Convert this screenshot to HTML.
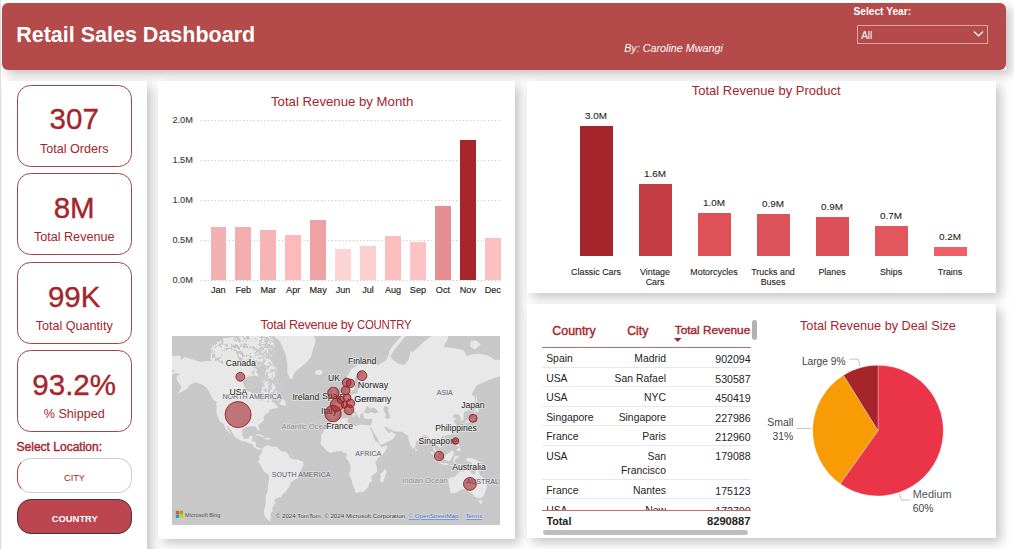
<!DOCTYPE html>
<html><head><meta charset="utf-8"><style>
html,body{margin:0;padding:0;width:1014px;height:549px;overflow:hidden;background:#fff;position:relative}
body{font-family:"Liberation Sans",sans-serif}
.t{position:absolute;white-space:nowrap}
.panel{position:absolute;background:#fff;box-shadow:5px 5px 10px rgba(0,0,0,0.22)}
</style></head><body>
<div style="position:absolute;left:0;top:0;width:1.3px;height:549px;background:#E2E2E2"></div>
<div class="panel" style="left:2px;top:3px;width:1004px;height:67px;background:#fff"></div>
<div style="position:absolute;left:2px;top:3px;width:1004px;height:67px;background:#B44A4A;border-radius:6px"></div>
<div class="t" style="left:16.2px;top:25.00px;font-size:21.5px;line-height:21.5px;color:#fff;font-weight:700;font-style:normal;">Retail Sales Dashboard</div>
<div class="t" style="left:624.2px;top:43.30px;font-size:10.75px;line-height:10.75px;color:#fff;font-weight:400;font-style:italic;">By: Caroline Mwangi</div>
<div class="t" style="left:853.5px;top:6.57px;font-size:10.2px;line-height:10.2px;color:#fff;font-weight:700;font-style:normal;">Select Year:</div>
<div style="position:absolute;left:857px;top:24.5px;width:129px;height:17.5px;border:1px solid #D9A3A3;box-sizing:content-box"></div>
<div class="t" style="left:861.2px;top:30.54px;font-size:10px;line-height:10px;color:#fff;font-weight:400;font-style:normal;">All</div>
<svg style="position:absolute;left:972px;top:29px" width="14" height="10"><path d="M2,2.5 L6.5,7 L11,2.5" stroke="#fff" stroke-width="1.2" fill="none"/></svg>
<div class="panel" style="left:2px;top:81px;width:145px;height:520px"></div>
<div style="position:absolute;left:16.6px;top:84.5px;width:113px;height:80px;border:1px solid #A0444A;border-radius:13.5px"></div>
<div class="t" style="left:74.2px;transform:translateX(-50%);top:104.33px;font-size:29.5px;line-height:29.5px;color:#A4262C;font-weight:400;font-style:normal;-webkit-text-stroke:0.35px #A4262C">307</div>
<div class="t" style="left:74.2px;transform:translateX(-50%);top:142.93px;font-size:12.6px;line-height:12.6px;color:#A4262C;font-weight:400;font-style:normal;">Total Orders</div>
<div style="position:absolute;left:16.6px;top:173px;width:113px;height:80px;border:1px solid #A0444A;border-radius:13.5px"></div>
<div class="t" style="left:74.2px;transform:translateX(-50%);top:192.83px;font-size:29.5px;line-height:29.5px;color:#A4262C;font-weight:400;font-style:normal;-webkit-text-stroke:0.35px #A4262C">8M</div>
<div class="t" style="left:74.2px;transform:translateX(-50%);top:230.93px;font-size:12.6px;line-height:12.6px;color:#A4262C;font-weight:400;font-style:normal;">Total Revenue</div>
<div style="position:absolute;left:16.6px;top:262px;width:113px;height:80px;border:1px solid #A0444A;border-radius:13.5px"></div>
<div class="t" style="left:74.2px;transform:translateX(-50%);top:281.83px;font-size:29.5px;line-height:29.5px;color:#A4262C;font-weight:400;font-style:normal;-webkit-text-stroke:0.35px #A4262C">99K</div>
<div class="t" style="left:74.2px;transform:translateX(-50%);top:319.93px;font-size:12.6px;line-height:12.6px;color:#A4262C;font-weight:400;font-style:normal;">Total Quantity</div>
<div style="position:absolute;left:16.6px;top:350px;width:113px;height:80px;border:1px solid #A0444A;border-radius:13.5px"></div>
<div class="t" style="left:74.2px;transform:translateX(-50%);top:369.83px;font-size:29.5px;line-height:29.5px;color:#A4262C;font-weight:400;font-style:normal;-webkit-text-stroke:0.35px #A4262C">93.2%</div>
<div class="t" style="left:74.2px;transform:translateX(-50%);top:407.93px;font-size:12.6px;line-height:12.6px;color:#A4262C;font-weight:400;font-style:normal;">% Shipped</div>
<div class="t" style="left:16.6px;top:441.14px;font-size:12px;line-height:12px;color:#A4262C;font-weight:400;font-style:normal;-webkit-text-stroke:0.4px #A4262C">Select Location:</div>
<div style="position:absolute;left:17px;top:457.6px;width:112.8px;height:33px;border:1px solid #CFCFCF;border-left-color:#C04040;border-radius:14px;background:#fff"></div>
<div class="t" style="left:74.5px;transform:translateX(-50%);top:474.21px;font-size:9.2px;line-height:9.2px;color:#A4262C;font-weight:400;font-style:normal;">CITY</div>
<div style="position:absolute;left:17px;top:499px;width:112.8px;height:33px;border:1px solid #4A3030;border-radius:14px;background:#BC464F"></div>
<div class="t" style="left:74.8px;transform:translateX(-50%);top:513.84px;font-size:9.4px;line-height:9.4px;color:#fff;font-weight:700;font-style:normal;">COUNTRY</div>
<div class="panel" style="left:158px;top:81px;width:357px;height:458px"></div>
<div class="t" style="left:271px;top:94.83px;font-size:13.2px;line-height:13.2px;color:#A6242B;font-weight:400;font-style:normal;">Total Revenue by Month</div>
<svg style="position:absolute;left:200px;top:120px" width="302" height="2"><line x1="0.5" y1="0.5" x2="301" y2="0.5" stroke="#C4C4C4" stroke-width="1" stroke-dasharray="1.1 2.45"/></svg>
<div class="t" style="right:821.2px;top:116.01px;font-size:9.2px;line-height:9.2px;color:#3C3B3A;font-weight:400;font-style:normal;-webkit-text-stroke:0.1px #3C3B3A">2.0M</div>
<svg style="position:absolute;left:200px;top:160px" width="302" height="2"><line x1="0.5" y1="0.5" x2="301" y2="0.5" stroke="#C4C4C4" stroke-width="1" stroke-dasharray="1.1 2.45"/></svg>
<div class="t" style="right:821.2px;top:156.01px;font-size:9.2px;line-height:9.2px;color:#3C3B3A;font-weight:400;font-style:normal;-webkit-text-stroke:0.1px #3C3B3A">1.5M</div>
<svg style="position:absolute;left:200px;top:200px" width="302" height="2"><line x1="0.5" y1="0.5" x2="301" y2="0.5" stroke="#C4C4C4" stroke-width="1" stroke-dasharray="1.1 2.45"/></svg>
<div class="t" style="right:821.2px;top:196.01px;font-size:9.2px;line-height:9.2px;color:#3C3B3A;font-weight:400;font-style:normal;-webkit-text-stroke:0.1px #3C3B3A">1.0M</div>
<svg style="position:absolute;left:200px;top:240px" width="302" height="2"><line x1="0.5" y1="0.5" x2="301" y2="0.5" stroke="#C4C4C4" stroke-width="1" stroke-dasharray="1.1 2.45"/></svg>
<div class="t" style="right:821.2px;top:236.01px;font-size:9.2px;line-height:9.2px;color:#3C3B3A;font-weight:400;font-style:normal;-webkit-text-stroke:0.1px #3C3B3A">0.5M</div>
<svg style="position:absolute;left:200px;top:280px" width="302" height="2"><line x1="0.5" y1="0.5" x2="301" y2="0.5" stroke="#C4C4C4" stroke-width="1" stroke-dasharray="1.1 2.45"/></svg>
<div class="t" style="right:821.2px;top:276.01px;font-size:9.2px;line-height:9.2px;color:#3C3B3A;font-weight:400;font-style:normal;-webkit-text-stroke:0.1px #3C3B3A">0.0M</div>
<div style="position:absolute;left:210.50px;top:227px;width:15.7px;height:53.20px;background:#F4B1B2"></div>
<div class="t" style="left:218.35px;transform:translateX(-50%);top:285.80px;font-size:9.1px;line-height:9.1px;color:#252423;font-weight:400;font-style:normal;-webkit-text-stroke:0.15px #252423">Jan</div>
<div style="position:absolute;left:235.45px;top:226.6px;width:15.7px;height:53.60px;background:#F3AEB0"></div>
<div class="t" style="left:243.29999999999998px;transform:translateX(-50%);top:285.80px;font-size:9.1px;line-height:9.1px;color:#252423;font-weight:400;font-style:normal;-webkit-text-stroke:0.15px #252423">Feb</div>
<div style="position:absolute;left:260.40px;top:230px;width:15.7px;height:50.20px;background:#F6B4B5"></div>
<div class="t" style="left:268.25px;transform:translateX(-50%);top:285.80px;font-size:9.1px;line-height:9.1px;color:#252423;font-weight:400;font-style:normal;-webkit-text-stroke:0.15px #252423">Mar</div>
<div style="position:absolute;left:285.35px;top:235px;width:15.7px;height:45.20px;background:#FDBABB"></div>
<div class="t" style="left:293.20000000000005px;transform:translateX(-50%);top:285.80px;font-size:9.1px;line-height:9.1px;color:#252423;font-weight:400;font-style:normal;-webkit-text-stroke:0.15px #252423">Apr</div>
<div style="position:absolute;left:310.30px;top:219.5px;width:15.7px;height:60.70px;background:#EDA3A4"></div>
<div class="t" style="left:318.15000000000003px;transform:translateX(-50%);top:285.80px;font-size:9.1px;line-height:9.1px;color:#252423;font-weight:400;font-style:normal;-webkit-text-stroke:0.15px #252423">May</div>
<div style="position:absolute;left:335.25px;top:249px;width:15.7px;height:31.20px;background:#FED4D5"></div>
<div class="t" style="left:343.1px;transform:translateX(-50%);top:285.80px;font-size:9.1px;line-height:9.1px;color:#252423;font-weight:400;font-style:normal;-webkit-text-stroke:0.15px #252423">Jun</div>
<div style="position:absolute;left:360.20px;top:246px;width:15.7px;height:34.20px;background:#FDCFD0"></div>
<div class="t" style="left:368.05px;transform:translateX(-50%);top:285.80px;font-size:9.1px;line-height:9.1px;color:#252423;font-weight:400;font-style:normal;-webkit-text-stroke:0.15px #252423">Jul</div>
<div style="position:absolute;left:385.15px;top:235.8px;width:15.7px;height:44.40px;background:#FBBDBE"></div>
<div class="t" style="left:393.0px;transform:translateX(-50%);top:285.80px;font-size:9.1px;line-height:9.1px;color:#252423;font-weight:400;font-style:normal;-webkit-text-stroke:0.15px #252423">Aug</div>
<div style="position:absolute;left:410.10px;top:241.8px;width:15.7px;height:38.40px;background:#FDC4C5"></div>
<div class="t" style="left:417.95000000000005px;transform:translateX(-50%);top:285.80px;font-size:9.1px;line-height:9.1px;color:#252423;font-weight:400;font-style:normal;-webkit-text-stroke:0.15px #252423">Sep</div>
<div style="position:absolute;left:435.05px;top:206.4px;width:15.7px;height:73.80px;background:#E58F92"></div>
<div class="t" style="left:442.9px;transform:translateX(-50%);top:285.80px;font-size:9.1px;line-height:9.1px;color:#252423;font-weight:400;font-style:normal;-webkit-text-stroke:0.15px #252423">Oct</div>
<div style="position:absolute;left:460.00px;top:140.2px;width:15.7px;height:140.00px;background:#A6262B"></div>
<div class="t" style="left:467.85px;transform:translateX(-50%);top:285.80px;font-size:9.1px;line-height:9.1px;color:#252423;font-weight:400;font-style:normal;-webkit-text-stroke:0.15px #252423">Nov</div>
<div style="position:absolute;left:484.95px;top:238px;width:15.7px;height:42.20px;background:#FDC0C1"></div>
<div class="t" style="left:492.8px;transform:translateX(-50%);top:285.80px;font-size:9.1px;line-height:9.1px;color:#252423;font-weight:400;font-style:normal;-webkit-text-stroke:0.15px #252423">Dec</div>
<div class="t" style="left:260.6px;top:318.63px;font-size:12.6px;line-height:12.6px;color:#A6242B;font-weight:400;font-style:normal;letter-spacing:-0.28px">Total Revenue by <span style="display:inline-block;transform:scaleX(0.905);transform-origin:0 0">COUNTRY</span></div>
<svg style="position:absolute;left:172px;top:336px;font-family:'Liberation Sans',sans-serif" width="328" height="189" viewBox="0 0 328 189">
<rect width="328" height="189" fill="#C8C8C8"/>
<path d="M-5.2,39.6 L-2.2,35.1 L1.7,36.0 L3.6,29.3 L12.6,20.9 L28.0,25.8 L40.7,24.7 L53.3,28.8 L60.2,30.1 L69.9,30.1 L73.3,18.7 L77.7,28.8 L85.5,33.9 L81.6,39.6 L73.8,45.9 L74.8,50.2 L78.7,53.8 L85.5,56.9 L87.5,62.6 L88.9,57.8 L90.4,50.8 L89.4,43.3 L93.3,43.5 L97.2,45.9 L102.1,47.5 L105.5,55.2 L109.9,61.0 L107.0,64.6 L101.1,64.9 L102.8,67.3 L106.0,71.4 L101.1,72.8 L97.2,74.1 L97.2,76.5 L93.3,78.0 L91.4,82.4 L91.9,84.5 L86.5,88.8 L87.4,93.8 L87.1,95.8 L85.0,93.3 L83.6,90.5 L78.7,90.3 L73.8,91.1 L70.5,93.3 L70.2,99.1 L71.9,102.2 L73.3,103.1 L76.7,102.5 L77.2,100.2 L80.6,99.7 L79.7,105.3 L83.6,105.5 L84.2,110.8 L87.9,111.9 L90.1,112.7 L87.5,114.0 L85.0,113.0 L81.8,110.8 L80.2,108.3 L76.2,107.3 L73.0,105.3 L70.1,105.3 L62.6,100.7 L59.7,95.4 L55.8,90.0 L54.8,91.1 L58.2,97.0 L58.3,98.2 L56.3,96.2 L53.8,92.7 L51.9,88.8 L51.3,87.7 L47.9,85.4 L46.0,81.4 L44.4,78.2 L44.6,70.4 L43.9,67.3 L45.5,66.4 L41.2,63.7 L38.2,57.8 L34.8,51.7 L29.5,48.3 L23.1,46.3 L17.8,48.9 L15.3,52.6 L10.9,55.2 L6.1,57.4 L9.5,50.8 L7.3,47.9 L4.6,42.9 L4.8,40.1 L8.5,38.5 L3.6,36.7 L-5.2,41.8ZM100.0,-2.0 L101.7,0.0 L108.0,5.5 L110.8,11.8 L113.5,18.2 L115.3,27.3 L115.3,36.4 L118.0,42.8 L119.9,43.3 L122.6,36.4 L129.0,31.0 L135.4,25.5 L139.0,21.0 L140.8,13.7 L143.6,5.5 L142.0,-2.0ZM-2.0,20.0 L8.0,19.5 L10.0,26.0 L7.0,33.0 L-2.0,34.0ZM105.2,33.6 L102.6,40.7 L101.1,44.1 L95.8,41.8 L92.8,38.5 L94.8,31.4 L91.4,28.5 L85.5,24.7 L78.2,19.4 L81.6,13.8 L87.5,13.1 L91.4,16.5 L97.2,22.7 L100.1,26.1 L103.1,30.6ZM67.5,27.5 L64.1,28.8 L55.3,28.8 L50.9,26.1 L49.4,20.3 L53.3,14.5 L61.1,13.8 L63.6,17.1 L66.2,21.8ZM43.1,20.3 L47.0,21.2 L50.9,17.1 L48.7,10.7 L44.1,11.0 L43.1,16.2ZM77.7,2.6 L87.5,3.8 L92.3,-8.9 L107.0,-26.6 L92.3,-34.1 L72.8,-20.1ZM87.5,10.3 L76.7,9.6 L75.3,3.4 L83.6,2.1 L87.0,3.8ZM77.7,18.1 L72.8,18.7 L69.4,13.8 L71.9,12.1 L76.7,12.1ZM63.1,6.6 L51.4,8.5 L51.4,2.6 L60.2,1.3ZM87.0,40.7 L81.6,39.6 L80.6,36.2 L81.6,34.3 L86.5,38.5ZM107.7,68.4 L113.8,69.7 L114.2,67.9 L111.4,62.5 L109.9,64.1 L107.6,67.3ZM143.0,36.0 L144.5,34.2 L148.0,33.8 L150.6,35.0 L150.0,38.0 L146.5,39.0 L143.5,38.2ZM82.6,99.3 L86.0,98.0 L89.9,99.4 L93.1,101.0 L89.9,101.3 L87.0,99.6 L84.1,99.4ZM92.8,102.8 L94.8,101.4 L98.7,102.2 L98.8,103.0 L95.8,103.7 L93.1,103.2ZM90.1,112.7 L91.4,112.0 L91.9,110.7 L96.2,109.3 L99.2,110.7 L104.0,110.6 L106.0,112.2 L109.4,115.2 L112.8,115.4 L115.2,116.8 L116.7,119.3 L118.2,122.0 L122.1,123.4 L126.5,123.8 L131.3,126.1 L131.3,129.8 L128.9,133.2 L127.4,138.2 L126.0,142.3 L122.1,144.1 L118.2,147.1 L117.9,149.8 L113.8,155.5 L110.4,158.7 L109.4,161.1 L104.7,162.0 L102.1,164.6 L103.6,166.6 L101.6,169.9 L99.6,172.0 L101.3,173.9 L98.2,177.9 L98.8,180.8 L98.6,184.9 L99.8,186.6 L95.3,183.4 L92.8,180.2 L91.9,174.9 L93.3,169.9 L93.8,165.3 L93.6,160.2 L95.8,154.3 L95.9,149.3 L97.0,144.4 L96.9,139.1 L92.1,136.0 L90.4,132.7 L87.8,128.0 L86.2,125.7 L87.5,123.4 L87.0,120.5 L87.9,118.6 L89.9,117.1 L90.1,114.2ZM159.7,83.8 L155.9,88.8 L152.6,93.1 L148.8,100.2 L149.6,102.2 L148.4,106.6 L149.1,108.8 L150.8,110.3 L152.5,112.2 L154.2,114.2 L158.1,116.7 L161.6,116.0 L166.4,115.2 L169.9,114.9 L171.3,116.8 L173.8,116.6 L175.0,118.1 L174.7,120.0 L174.0,122.0 L177.0,125.8 L178.3,129.6 L178.6,133.2 L177.0,137.7 L179.6,143.7 L180.4,148.2 L182.0,150.9 L183.4,156.3 L185.0,157.0 L187.4,155.9 L190.4,156.1 L192.8,154.9 L196.2,150.7 L197.5,147.1 L200.1,145.0 L199.9,142.9 L199.3,140.6 L201.3,138.6 L204.9,136.2 L204.9,131.2 L203.8,128.8 L203.7,125.6 L205.9,122.6 L207.9,120.3 L210.3,118.8 L213.7,114.7 L215.5,109.5 L209.3,110.9 L207.7,109.5 L206.4,106.8 L204.0,105.8 L201.8,102.5 L200.4,97.1 L198.4,93.5 L197.1,90.6 L197.0,89.0 L194.7,88.9 L189.8,88.6 L185.1,89.6 L184.0,90.2 L180.6,88.8 L176.7,86.9 L175.4,85.4 L176.2,82.4 L175.0,82.0 L168.4,82.6 L163.5,84.6ZM213.5,132.7 L214.7,136.2 L213.7,138.2 L211.5,145.8 L209.5,146.6 L208.1,143.9 L208.6,140.8 L208.4,137.7 L210.8,136.2 L212.3,134.2ZM160.0,83.6 L156.7,82.4 L156.8,80.3 L156.2,78.0 L156.9,76.1 L156.4,74.8 L158.0,73.8 L163.7,74.2 L164.3,70.7 L163.0,68.9 L160.9,67.9 L164.0,66.8 L166.9,64.9 L168.4,63.1 L169.9,61.0 L170.3,59.8 L173.8,59.3 L173.8,56.4 L173.5,53.8 L175.7,52.2 L175.7,55.2 L175.2,57.8 L176.2,58.6 L179.1,58.6 L183.5,57.8 L185.9,56.4 L185.9,53.5 L188.9,49.3 L193.2,48.3 L194.2,47.5 L187.4,47.3 L186.4,45.9 L186.4,41.2 L190.0,37.4 L189.4,35.5 L186.4,36.2 L184.0,40.7 L182.5,43.9 L183.8,48.3 L181.6,53.5 L179.4,56.1 L177.9,56.1 L176.7,51.3 L175.7,49.3 L173.3,51.7 L170.8,50.2 L170.3,45.9 L171.0,50.5 L174.0,42.0 L179.7,32.8 L186.2,28.4 L196.0,26.2 L201.0,27.0 L206.0,29.5 L209.0,27.3 L214.7,24.0 L216.8,17.0 L220.0,23.0 L225.6,27.5 L232.0,29.0 L236.5,24.0 L238.7,14.2 L240.0,16.4 L244.4,13.0 L251.0,6.6 L256.4,2.2 L262.0,-2.0 L276.0,-2.0 L276.0,2.2 L271.7,11.0 L281.5,12.0 L291.4,14.2 L294.7,19.7 L305.6,17.5 L316.5,19.7 L323.0,24.0 L333.0,23.0 L333.0,40.0 L323.0,41.5 L310.0,47.0 L304.9,49.3 L299.5,58.6 L302.9,61.0 L302.4,67.1 L297.1,74.1 L292.7,75.4 L291.7,78.0 L291.5,83.6 L288.8,85.4 L288.8,81.8 L287.3,79.2 L283.9,77.6 L280.5,79.9 L281.5,82.1 L284.7,81.9 L281.5,84.8 L284.3,89.4 L283.9,92.2 L282.0,95.4 L279.1,98.2 L276.1,98.9 L272.7,100.2 L272.5,99.6 L270.8,99.7 L269.3,101.2 L268.5,102.5 L271.9,109.3 L269.5,110.9 L267.6,112.6 L267.8,110.8 L266.4,110.8 L263.4,107.8 L262.2,111.3 L263.4,113.9 L266.4,116.6 L267.1,119.7 L263.9,118.3 L263.3,115.7 L261.5,113.2 L261.7,110.8 L260.5,104.8 L257.4,105.3 L257.1,102.2 L255.4,100.2 L253.7,99.1 L251.8,99.5 L250.2,100.4 L248.3,101.7 L245.7,104.8 L243.8,105.8 L243.7,108.3 L243.3,111.0 L241.0,113.1 L239.9,111.6 L238.4,108.5 L236.6,103.8 L236.4,102.2 L236.2,99.9 L233.7,98.6 L232.2,97.6 L230.5,95.7 L225.5,95.8 L221.3,95.1 L220.4,93.6 L218.1,94.1 L214.7,91.2 L212.3,90.5 L214.2,94.6 L215.7,95.1 L215.7,96.8 L218.6,96.8 L220.4,94.7 L220.6,96.5 L222.5,97.6 L223.8,98.6 L221.8,102.2 L219.1,104.3 L216.2,105.5 L212.8,107.3 L209.3,108.5 L207.7,108.6 L207.1,105.8 L205.4,102.2 L203.5,99.5 L201.8,96.7 L199.6,92.7 L199.1,91.1 L198.2,92.9 L197.1,90.5 L199.1,88.8 L199.6,87.1 L200.5,83.8 L200.8,82.9 L195.2,83.0 L192.3,82.4 L191.3,79.3 L191.3,78.0 L188.9,77.6 L187.9,79.9 L187.4,83.0 L185.9,80.5 L184.5,78.0 L184.3,76.4 L181.1,74.1 L178.8,71.4 L177.5,71.8 L177.6,73.4 L179.1,75.4 L181.1,76.7 L183.5,78.5 L182.0,79.9 L181.6,81.2 L180.8,81.2 L180.9,78.7 L179.1,77.6 L177.4,76.4 L175.7,74.8 L174.0,72.9 L171.8,74.6 L169.9,74.2 L168.5,75.3 L168.6,76.2 L166.3,77.4 L165.2,79.3 L165.7,80.3 L164.7,81.6 L163.3,82.7 L161.1,82.7ZM159.9,64.8 L162.5,63.8 L166.8,63.1 L167.1,60.7 L165.8,59.4 L164.0,56.1 L163.4,52.6 L162.2,50.6 L160.6,50.6 L159.4,53.5 L160.1,55.2 L160.7,57.3 L162.3,57.4 L162.2,59.6 L161.0,59.9 L161.3,61.4 L160.4,62.3 L162.1,62.8ZM159.6,61.5 L159.4,58.8 L160.0,57.4 L158.3,56.4 L157.2,57.6 L155.7,58.6 L156.2,61.0 L155.4,62.1 L157.5,62.1ZM292.4,89.0 L293.8,86.5 L293.1,85.9 L294.6,84.3 L297.8,84.2 L298.8,82.0 L301.6,80.5 L302.0,77.6 L303.3,77.0 L303.9,79.3 L302.8,81.9 L302.7,83.9 L301.8,84.9 L300.8,85.2 L299.0,85.4 L297.3,86.2 L295.4,86.8 L294.2,87.2 L293.6,89.0ZM302.0,76.7 L303.7,75.3 L305.2,76.1 L307.5,74.4 L305.9,73.3 L303.9,71.4 L303.3,74.4 L302.0,75.2ZM303.9,70.7 L305.4,69.6 L304.7,66.4 L304.9,58.1 L304.4,59.4 L303.9,63.4 L303.7,67.1ZM284.3,96.0 L283.4,99.1 L282.6,98.1 L282.8,96.5ZM271.3,102.0 L273.2,101.1 L273.7,101.6 L272.2,103.1ZM243.3,111.6 L245.2,113.7 L244.6,115.1 L243.5,115.2 L243.2,113.0ZM282.5,102.8 L284.6,102.8 L284.4,104.8 L286.4,108.3 L285.4,107.8 L283.0,107.1 L282.3,105.0ZM284.4,114.2 L287.8,115.4 L288.9,113.9 L287.8,111.5 L285.9,112.6ZM284.3,109.5 L286.9,111.3 L287.8,109.8 L286.7,108.8 L284.4,109.0ZM258.4,115.6 L260.5,116.0 L263.3,118.9 L266.6,122.0 L268.8,124.1 L268.6,126.7 L267.4,126.7 L264.4,123.9 L262.6,121.5 L261.5,119.4 L259.1,117.3ZM268.0,127.6 L269.3,126.8 L271.2,127.2 L273.7,127.2 L275.4,127.7 L277.1,128.6 L274.7,129.1 L270.8,128.6 L268.3,127.8ZM271.7,119.5 L272.3,122.0 L272.9,123.9 L277.1,124.9 L279.1,123.4 L280.1,120.2 L281.3,120.0 L281.8,116.0 L279.5,114.2 L278.1,116.2 L275.6,117.9 L273.7,119.3ZM281.9,126.3 L282.9,126.4 L283.2,123.7 L283.9,122.0 L285.7,121.9 L287.2,119.5 L282.9,120.0 L282.2,121.0 L281.4,123.9ZM293.2,122.4 L296.6,121.9 L300.0,122.6 L302.9,123.5 L307.5,125.7 L309.3,127.3 L309.3,128.8 L311.7,131.2 L307.8,129.3 L305.4,129.8 L304.4,130.0 L302.4,129.3 L299.8,129.2 L300.0,127.3 L297.1,125.4 L294.6,124.9 L294.2,123.7 L295.1,123.1ZM277.1,128.9 L281.5,129.1 L285.4,129.0 L289.3,129.0 L289.3,129.8 L286.4,130.7 L281.5,130.0 L277.1,129.6ZM276.1,142.9 L276.8,147.6 L277.6,150.9 L278.3,155.5 L277.6,156.4 L280.4,157.4 L285.9,155.9 L288.3,154.1 L291.2,153.3 L293.4,153.2 L296.3,154.5 L297.8,157.1 L299.7,155.5 L299.5,157.8 L300.5,157.2 L302.0,160.2 L305.4,161.8 L308.1,162.2 L311.7,160.2 L313.0,155.8 L314.7,152.0 L315.1,148.7 L314.6,146.0 L312.5,143.4 L310.7,141.3 L308.1,139.5 L307.3,135.7 L305.4,134.7 L304.4,131.4 L303.5,133.7 L303.4,137.7 L302.7,138.2 L301.3,138.1 L298.1,136.2 L299.0,132.9 L298.6,132.7 L294.6,132.2 L293.2,132.9 L291.7,135.6 L290.3,135.7 L288.3,134.7 L286.9,137.1 L284.6,138.7 L283.4,140.3 L281.0,141.1 L279.2,141.4 L277.3,142.6ZM306.4,164.2 L310.1,164.5 L309.8,167.2 L308.6,168.0 L307.0,166.2ZM231.0,-2.0 L225.0,5.0 L219.0,12.0 L216.5,18.0 L219.0,19.5 L222.0,14.0 L228.0,7.0 L235.0,-2.0ZM298.1,10.3 L302.9,13.8 L308.8,8.5 L303.9,4.6 L299.0,4.6Z" fill="#E8E8E8"/>
<path d="M192.3,75.4 L192.8,77.1 L195.7,77.3 L199.6,76.1 L202.5,77.4 L205.9,76.7 L206.1,75.4 L203.5,72.8 L202.0,71.7 L201.1,71.7 L199.6,72.1 L198.1,72.8 L197.1,71.4 L195.2,70.0 L194.4,71.7ZM211.3,72.1 L213.2,70.0 L217.1,71.8 L215.7,74.8 L216.9,76.7 L218.0,80.2 L218.1,82.0 L215.2,82.7 L213.2,81.8 L213.7,78.0 L211.8,74.8Z" fill="#C8C8C8"/>
<defs><filter id="nzl" x="0" y="0" width="100%" height="100%" color-interpolation-filters="sRGB"><feTurbulence type="fractalNoise" baseFrequency="0.32" numOctaves="2" seed="7" result="t"/><feColorMatrix in="t" type="matrix" values="0 0 0 0 0.905  0 0 0 0 0.905  0 0 0 0 0.905  14 0 0 0 -6.6" result="c"/><feComposite in="c" in2="SourceGraphic" operator="in"/></filter><filter id="nzd" x="0" y="0" width="100%" height="100%" color-interpolation-filters="sRGB"><feTurbulence type="fractalNoise" baseFrequency="0.3" numOctaves="2" seed="11" result="t"/><feColorMatrix in="t" type="matrix" values="0 0 0 0 0.80  0 0 0 0 0.80  0 0 0 0 0.80  12 0 0 0 -5.6" result="c"/><feComposite in="c" in2="SourceGraphic" operator="in"/></filter></defs><path d="M40.0,7.0 L56.0,2.0 L73.0,0.0 L100.0,0.0 L104.0,9.0 L100.0,20.0 L93.0,28.0 L80.0,33.0 L70.0,36.0 L61.0,31.7 L49.0,28.4 L38.0,25.0Z" fill="#000" filter="url(#nzl)"/><path d="M78.0,36.0 L90.0,30.0 L100.0,26.0 L106.0,36.0 L112.0,52.0 L111.0,62.0 L100.0,67.0 L86.0,64.0 L90.0,56.0 L88.0,44.0Z" fill="#000" filter="url(#nzd)"/><path d="M84.0,10.0 L94.0,2.0 L102.0,2.0 L104.0,14.0 L100.0,24.0 L96.0,32.0 L88.0,36.0 L80.0,30.0 L82.0,19.0Z" fill="#000" filter="url(#nzd)"/><path d="M72.0,42.0 L79.0,40.0 L86.0,41.0 L90.0,45.0 L90.0,54.0 L86.0,58.0 L80.0,57.0 L74.0,54.0 L71.0,47.0Z" fill="#C8C8C8"/><text x="50.5" y="62.7" font-size="7.1" fill="#5E6275" stroke="#E8E8E8" stroke-width="1.5" paint-order="stroke" stroke-opacity="0.6">NORTH AMERICA</text><text x="264.7" y="59.3" font-size="7.1" fill="#5E6275" stroke="#E8E8E8" stroke-width="1.5" paint-order="stroke" stroke-opacity="0.6">ASIA</text><text x="183.3" y="119.6" font-size="7.1" fill="#5E6275" stroke="#E8E8E8" stroke-width="1.5" paint-order="stroke" stroke-opacity="0.6">AFRICA</text><text x="99.8" y="141.4" font-size="7.1" fill="#5E6275" stroke="#E8E8E8" stroke-width="1.5" paint-order="stroke" stroke-opacity="0.6">SOUTH AMERICA</text><text x="294.3" y="148.2" font-size="7.1" fill="#5E6275" stroke="#E8E8E8" stroke-width="1.5" paint-order="stroke" stroke-opacity="0.6">AUSTRALIA</text><text x="109.5" y="93.2" font-size="7.7" fill="#8C8C8C" stroke="#E8E8E8" stroke-width="1.5" paint-order="stroke" stroke-opacity="0.6">Atlantic Ocean</text><text x="230.0" y="147.2" font-size="7.7" fill="#8C8C8C" stroke="#E8E8E8" stroke-width="1.5" paint-order="stroke" stroke-opacity="0.6">Indian Ocean</text><text x="53.8" y="29.7" font-size="8.6" fill="#252423" stroke="#EEEEEE" stroke-width="1.6" paint-order="stroke" stroke-opacity="0.7">Canada</text><text x="57.5" y="59.2" font-size="8.6" fill="#252423" stroke="#EEEEEE" stroke-width="1.6" paint-order="stroke" stroke-opacity="0.7">USA</text><text x="120.4" y="63.9" font-size="8.8" fill="#252423" stroke="#EEEEEE" stroke-width="1.6" paint-order="stroke" stroke-opacity="0.7">Ireland</text><text x="176.0" y="27.8" font-size="8.6" fill="#252423" stroke="#EEEEEE" stroke-width="1.6" paint-order="stroke" stroke-opacity="0.7">Finland</text><text x="156.0" y="44.7" font-size="8.6" fill="#252423" stroke="#EEEEEE" stroke-width="1.6" paint-order="stroke" stroke-opacity="0.7">UK</text><text x="185.7" y="52.2" font-size="9" fill="#252423" stroke="#EEEEEE" stroke-width="1.6" paint-order="stroke" stroke-opacity="0.7">Norway</text><text x="182.2" y="66.2" font-size="8.8" fill="#252423" stroke="#EEEEEE" stroke-width="1.6" paint-order="stroke" stroke-opacity="0.7">Greece</text><text x="182.2" y="66.2" font-size="9" fill="#252423" stroke="#EEEEEE" stroke-width="1.6" paint-order="stroke" stroke-opacity="0.7">Germany</text><text x="149.9" y="62.7" font-size="8.8" fill="#252423" stroke="#EEEEEE" stroke-width="1.6" paint-order="stroke" stroke-opacity="0.7">Spain</text><text x="149.0" y="77.6" font-size="8.8" fill="#252423" stroke="#EEEEEE" stroke-width="1.6" paint-order="stroke" stroke-opacity="0.7">Italy</text><text x="154.2" y="92.5" font-size="8.6" fill="#252423" stroke="#EEEEEE" stroke-width="1.6" paint-order="stroke" stroke-opacity="0.7">France</text><text x="289.2" y="71.5" font-size="8.6" fill="#252423" stroke="#EEEEEE" stroke-width="1.6" paint-order="stroke" stroke-opacity="0.7">Japan</text><text x="263.2" y="95.0" font-size="8.6" fill="#252423" stroke="#EEEEEE" stroke-width="1.6" paint-order="stroke" stroke-opacity="0.7">Philippines</text><text x="246.6" y="108.3" font-size="8.6" fill="#252423" stroke="#EEEEEE" stroke-width="1.6" paint-order="stroke" stroke-opacity="0.7">Singapore</text><text x="280.3" y="133.9" font-size="8.6" fill="#252423" stroke="#EEEEEE" stroke-width="1.6" paint-order="stroke" stroke-opacity="0.7">Australia</text><circle cx="68.3" cy="40.8" r="4.4" fill="rgba(164,38,44,0.6)" stroke="#8E2227" stroke-width="0.9"/><circle cx="66.1" cy="78.6" r="13" fill="rgba(164,38,44,0.6)" stroke="#8E2227" stroke-width="0.9"/><circle cx="190.0" cy="39.7" r="4.9" fill="rgba(164,38,44,0.6)" stroke="#8E2227" stroke-width="0.9"/><circle cx="174.7" cy="46.5" r="4.4" fill="rgba(164,38,44,0.6)" stroke="#8E2227" stroke-width="0.9"/><circle cx="178.5" cy="47.4" r="4.2" fill="rgba(164,38,44,0.6)" stroke="#8E2227" stroke-width="0.9"/><circle cx="173.6" cy="54.4" r="4.4" fill="rgba(164,38,44,0.6)" stroke="#8E2227" stroke-width="0.9"/><circle cx="161.4" cy="56.9" r="5.7" fill="rgba(164,38,44,0.6)" stroke="#8E2227" stroke-width="0.9"/><circle cx="175.2" cy="61.8" r="3.8" fill="rgba(164,38,44,0.6)" stroke="#8E2227" stroke-width="0.9"/><circle cx="168.7" cy="63.8" r="3.6" fill="rgba(164,38,44,0.6)" stroke="#8E2227" stroke-width="0.9"/><circle cx="164.9" cy="68.9" r="6.6" fill="rgba(164,38,44,0.6)" stroke="#8E2227" stroke-width="0.9"/><circle cx="172.5" cy="68.9" r="3.3" fill="rgba(164,38,44,0.6)" stroke="#8E2227" stroke-width="0.9"/><circle cx="178.5" cy="67.3" r="4.2" fill="rgba(164,38,44,0.6)" stroke="#8E2227" stroke-width="0.9"/><circle cx="176.9" cy="73.8" r="4.9" fill="rgba(164,38,44,0.6)" stroke="#8E2227" stroke-width="0.9"/><circle cx="161.0" cy="77.6" r="8.2" fill="rgba(164,38,44,0.6)" stroke="#8E2227" stroke-width="0.9"/><circle cx="301.1" cy="82.3" r="4" fill="rgba(164,38,44,0.6)" stroke="#8E2227" stroke-width="0.9"/><circle cx="283.5" cy="105.0" r="3.3" fill="rgba(164,38,44,0.6)" stroke="#8E2227" stroke-width="0.9"/><circle cx="267.1" cy="120.0" r="4.7" fill="rgba(164,38,44,0.6)" stroke="#8E2227" stroke-width="0.9"/><circle cx="297.9" cy="147.9" r="6.4" fill="rgba(164,38,44,0.6)" stroke="#8E2227" stroke-width="0.9"/><rect x="3.8000000000000114" y="174.8" width="3.4" height="3.4" fill="#F25022"/><rect x="7.600000000000011" y="174.8" width="3.4" height="3.4" fill="#7FBA00"/><rect x="3.8000000000000114" y="178.60000000000002" width="3.4" height="3.4" fill="#00A4EF"/><rect x="7.600000000000011" y="178.60000000000002" width="3.4" height="3.4" fill="#FFB900"/><text x="13" y="181" font-size="5.6" fill="#555">Microsoft Bing</text><text x="103.69999999999999" y="182" font-size="6.2" fill="#333" stroke="#E0E0E0" stroke-width="1" paint-order="stroke">© 2024 TomTom, © 2024 Microsoft Corporation, <tspan fill="#3B6BC4" text-decoration="underline">© OpenStreetMap</tspan><tspan dx="7" fill="#3B6BC4" text-decoration="underline">Terms</tspan></text>
</svg>
<div class="panel" style="left:527px;top:81px;width:469px;height:212px"></div>
<div class="t" style="left:691.7px;top:84.20px;font-size:13px;line-height:13px;color:#A6242B;font-weight:400;font-style:normal;">Total Revenue by Product</div>
<div style="position:absolute;left:579.50px;top:125.8px;width:33px;height:130.00px;background:#A4262A"></div>
<div class="t" style="left:596.0px;transform:translateX(-50%);top:110.82px;font-size:9.9px;line-height:9.9px;color:#252423;font-weight:400;font-style:normal;-webkit-text-stroke:0.1px #252423">3.0M</div>
<div class="t" style="left:596.0px;transform:translateX(-50%);top:267.67px;font-size:8.9px;line-height:8.9px;color:#252423;font-weight:400;font-style:normal;-webkit-text-stroke:0.1px #252423">Classic Cars</div>
<div style="position:absolute;left:638.50px;top:183.8px;width:33px;height:72.00px;background:#C43D45"></div>
<div class="t" style="left:655.0px;transform:translateX(-50%);top:168.82px;font-size:9.9px;line-height:9.9px;color:#252423;font-weight:400;font-style:normal;-webkit-text-stroke:0.1px #252423">1.6M</div>
<div class="t" style="left:655.0px;transform:translateX(-50%);top:267.67px;font-size:8.9px;line-height:8.9px;color:#252423;font-weight:400;font-style:normal;-webkit-text-stroke:0.1px #252423">Vintage</div>
<div class="t" style="left:655.0px;transform:translateX(-50%);top:278.27px;font-size:8.9px;line-height:8.9px;color:#252423;font-weight:400;font-style:normal;-webkit-text-stroke:0.1px #252423">Cars</div>
<div style="position:absolute;left:697.50px;top:212.9px;width:33px;height:42.90px;background:#DE5159"></div>
<div class="t" style="left:714.0px;transform:translateX(-50%);top:197.92px;font-size:9.9px;line-height:9.9px;color:#252423;font-weight:400;font-style:normal;-webkit-text-stroke:0.1px #252423">1.0M</div>
<div class="t" style="left:714.0px;transform:translateX(-50%);top:267.67px;font-size:8.9px;line-height:8.9px;color:#252423;font-weight:400;font-style:normal;-webkit-text-stroke:0.1px #252423">Motorcycles</div>
<div style="position:absolute;left:756.50px;top:214.4px;width:33px;height:41.40px;background:#DC525A"></div>
<div class="t" style="left:773.0px;transform:translateX(-50%);top:199.42px;font-size:9.9px;line-height:9.9px;color:#252423;font-weight:400;font-style:normal;-webkit-text-stroke:0.1px #252423">0.9M</div>
<div class="t" style="left:773.0px;transform:translateX(-50%);top:267.67px;font-size:8.9px;line-height:8.9px;color:#252423;font-weight:400;font-style:normal;-webkit-text-stroke:0.1px #252423">Trucks and</div>
<div class="t" style="left:773.0px;transform:translateX(-50%);top:278.27px;font-size:8.9px;line-height:8.9px;color:#252423;font-weight:400;font-style:normal;-webkit-text-stroke:0.1px #252423">Buses</div>
<div style="position:absolute;left:815.50px;top:217.4px;width:33px;height:38.40px;background:#DC5159"></div>
<div class="t" style="left:832.0px;transform:translateX(-50%);top:202.42px;font-size:9.9px;line-height:9.9px;color:#252423;font-weight:400;font-style:normal;-webkit-text-stroke:0.1px #252423">0.9M</div>
<div class="t" style="left:832.0px;transform:translateX(-50%);top:267.67px;font-size:8.9px;line-height:8.9px;color:#252423;font-weight:400;font-style:normal;-webkit-text-stroke:0.1px #252423">Planes</div>
<div style="position:absolute;left:874.50px;top:226px;width:33px;height:29.80px;background:#E2575E"></div>
<div class="t" style="left:891.0px;transform:translateX(-50%);top:211.02px;font-size:9.9px;line-height:9.9px;color:#252423;font-weight:400;font-style:normal;-webkit-text-stroke:0.1px #252423">0.7M</div>
<div class="t" style="left:891.0px;transform:translateX(-50%);top:267.67px;font-size:8.9px;line-height:8.9px;color:#252423;font-weight:400;font-style:normal;-webkit-text-stroke:0.1px #252423">Ships</div>
<div style="position:absolute;left:933.50px;top:247px;width:33px;height:8.80px;background:#EF5F68"></div>
<div class="t" style="left:950.0px;transform:translateX(-50%);top:232.02px;font-size:9.9px;line-height:9.9px;color:#252423;font-weight:400;font-style:normal;-webkit-text-stroke:0.1px #252423">0.2M</div>
<div class="t" style="left:950.0px;transform:translateX(-50%);top:267.67px;font-size:8.9px;line-height:8.9px;color:#252423;font-weight:400;font-style:normal;-webkit-text-stroke:0.1px #252423">Trains</div>
<div class="panel" style="left:527px;top:304px;width:469px;height:234px"></div>
<div class="t" style="left:552.3px;top:324.90px;font-size:12.4px;line-height:12.4px;color:#A4262C;font-weight:400;font-style:normal;-webkit-text-stroke:0.4px #A4262C">Country</div>
<div class="t" style="left:627.3px;top:325.07px;font-size:12.2px;line-height:12.2px;color:#A4262C;font-weight:400;font-style:normal;-webkit-text-stroke:0.4px #A4262C">City</div>
<div class="t" style="right:263.79999999999995px;top:325.41px;font-size:11.8px;line-height:11.8px;color:#A4262C;font-weight:400;font-style:normal;-webkit-text-stroke:0.4px #A4262C">Total Revenue</div>
<svg style="position:absolute;left:673px;top:337px" width="10" height="6"><path d="M1,1 L8.5,1 L4.75,5Z" fill="#A4262C"/></svg>
<div style="position:absolute;left:752px;top:320px;width:5px;height:19.6px;background:#B2B2B2;border-radius:2.4px"></div>
<div style="position:absolute;left:542px;top:346.7px;width:209px;height:1px;background:#C9686C"></div>
<div style="position:absolute;left:0;top:0;width:1014px;height:549px;clip-path:inset(348px 263px 39px 542px)">
<div style="position:absolute;left:542px;top:366.8px;width:209px;height:1px;background:#E8E8E8"></div>
<div style="position:absolute;left:542px;top:386.0px;width:209px;height:1px;background:#E8E8E8"></div>
<div style="position:absolute;left:542px;top:406.0px;width:209px;height:1px;background:#E8E8E8"></div>
<div style="position:absolute;left:542px;top:425.1px;width:209px;height:1px;background:#E8E8E8"></div>
<div style="position:absolute;left:542px;top:444.9px;width:209px;height:1px;background:#E8E8E8"></div>
<div style="position:absolute;left:542px;top:478.7px;width:209px;height:1px;background:#E8E8E8"></div>
<div style="position:absolute;left:542px;top:498.0px;width:209px;height:1px;background:#E8E8E8"></div>
<div class="t" style="left:546.2px;top:354.20px;font-size:10.4px;line-height:10.4px;color:#252423;font-weight:400;font-style:normal;">Spain</div>
<div class="t" style="right:348px;top:354.20px;font-size:10.4px;line-height:10.4px;color:#252423;font-weight:400;font-style:normal;">Madrid</div>
<div class="t" style="right:263.4px;top:354.03px;font-size:10.6px;line-height:10.6px;color:#252423;font-weight:400;font-style:normal;">902094</div>
<div class="t" style="left:546.2px;top:374.20px;font-size:10.4px;line-height:10.4px;color:#252423;font-weight:400;font-style:normal;">USA</div>
<div class="t" style="right:348px;top:374.20px;font-size:10.4px;line-height:10.4px;color:#252423;font-weight:400;font-style:normal;">San Rafael</div>
<div class="t" style="right:263.4px;top:374.03px;font-size:10.6px;line-height:10.6px;color:#252423;font-weight:400;font-style:normal;">530587</div>
<div class="t" style="left:546.2px;top:393.20px;font-size:10.4px;line-height:10.4px;color:#252423;font-weight:400;font-style:normal;">USA</div>
<div class="t" style="right:348px;top:393.20px;font-size:10.4px;line-height:10.4px;color:#252423;font-weight:400;font-style:normal;">NYC</div>
<div class="t" style="right:263.4px;top:393.03px;font-size:10.6px;line-height:10.6px;color:#252423;font-weight:400;font-style:normal;">450419</div>
<div class="t" style="left:546.2px;top:413.20px;font-size:10.4px;line-height:10.4px;color:#252423;font-weight:400;font-style:normal;">Singapore</div>
<div class="t" style="right:348px;top:413.20px;font-size:10.4px;line-height:10.4px;color:#252423;font-weight:400;font-style:normal;">Singapore</div>
<div class="t" style="right:263.4px;top:413.03px;font-size:10.6px;line-height:10.6px;color:#252423;font-weight:400;font-style:normal;">227986</div>
<div class="t" style="left:546.2px;top:432.20px;font-size:10.4px;line-height:10.4px;color:#252423;font-weight:400;font-style:normal;">France</div>
<div class="t" style="right:348px;top:432.20px;font-size:10.4px;line-height:10.4px;color:#252423;font-weight:400;font-style:normal;">Paris</div>
<div class="t" style="right:263.4px;top:432.03px;font-size:10.6px;line-height:10.6px;color:#252423;font-weight:400;font-style:normal;">212960</div>
<div class="t" style="left:546.2px;top:451.50px;font-size:10.4px;line-height:10.4px;color:#252423;font-weight:400;font-style:normal;">USA</div>
<div class="t" style="right:348px;top:451.50px;font-size:10.4px;line-height:10.4px;color:#252423;font-weight:400;font-style:normal;">San</div>
<div class="t" style="right:348px;top:465.60px;font-size:10.4px;line-height:10.4px;color:#252423;font-weight:400;font-style:normal;">Francisco</div>
<div class="t" style="right:263.4px;top:451.33px;font-size:10.6px;line-height:10.6px;color:#252423;font-weight:400;font-style:normal;">179088</div>
<div class="t" style="left:546.2px;top:486.20px;font-size:10.4px;line-height:10.4px;color:#252423;font-weight:400;font-style:normal;">France</div>
<div class="t" style="right:348px;top:486.20px;font-size:10.4px;line-height:10.4px;color:#252423;font-weight:400;font-style:normal;">Nantes</div>
<div class="t" style="right:263.4px;top:486.03px;font-size:10.6px;line-height:10.6px;color:#252423;font-weight:400;font-style:normal;">175123</div>
<div class="t" style="left:546.2px;top:505.70px;font-size:10.4px;line-height:10.4px;color:#252423;font-weight:400;font-style:normal;">USA</div>
<div class="t" style="right:348px;top:505.70px;font-size:10.4px;line-height:10.4px;color:#252423;font-weight:400;font-style:normal;">New</div>
<div class="t" style="right:348px;top:519.70px;font-size:10.4px;line-height:10.4px;color:#252423;font-weight:400;font-style:normal;">York</div>
<div class="t" style="right:263.4px;top:505.53px;font-size:10.6px;line-height:10.6px;color:#252423;font-weight:400;font-style:normal;">172700</div>
</div>
<div style="position:absolute;left:542px;top:510px;width:209px;height:1px;background:#C9686C"></div>
<div class="t" style="left:546.4px;top:516.26px;font-size:10.8px;line-height:10.8px;color:#252423;font-weight:700;font-style:normal;">Total</div>
<div class="t" style="right:263.5px;top:516.12px;font-size:11.2px;line-height:11.2px;color:#252423;font-weight:700;font-style:normal;">8290887</div>
<div style="position:absolute;left:542.7px;top:530px;width:205px;height:4.7px;background:#BDBDBD;border-radius:2.4px"></div>
<div class="t" style="left:800px;top:320.25px;font-size:12.7px;line-height:12.7px;color:#A6242B;font-weight:400;font-style:normal;">Total Revenue by Deal Size</div>
<svg style="position:absolute;left:0;top:0" width="1014" height="549"><path d="M878,430.6 L878.00,365.30 A65.3,65.3 0 1 1 840.12,483.79 Z" fill="#EA3548" stroke="#fff" stroke-width="0.5" stroke-opacity="0.6"/><path d="M878,430.6 L840.12,483.79 A65.3,65.3 0 0 1 843.53,375.14 Z" fill="#F89B05" stroke="#fff" stroke-width="0.5" stroke-opacity="0.6"/><path d="M878,430.6 L843.53,375.14 A65.3,65.3 0 0 1 878.00,365.30 Z" fill="#A6252A" stroke="#fff" stroke-width="0.5" stroke-opacity="0.6"/><path d="M849.3,359.2 L858.4,359.2 L859.8,366" stroke="#C2C2C2" stroke-width="1" fill="none"/><path d="M796.4,428.4 L811,428.4" stroke="#C2C2C2" stroke-width="1" fill="none"/><path d="M899,494 L901.6,500 L909.9,500" stroke="#C2C2C2" stroke-width="1" fill="none"/></svg>
<div class="t" style="left:801.9px;top:357.37px;font-size:10.2px;line-height:10.2px;color:#3F3F3F;font-weight:400;font-style:normal;">Large 9%</div>
<div class="t" style="right:220.70000000000005px;top:418.40px;font-size:10.4px;line-height:10.4px;color:#3F3F3F;font-weight:400;font-style:normal;">Small</div>
<div class="t" style="right:220.70000000000005px;top:432.10px;font-size:10.4px;line-height:10.4px;color:#3F3F3F;font-weight:400;font-style:normal;">31%</div>
<div class="t" style="left:912.8px;top:489.47px;font-size:10.9px;line-height:10.9px;color:#555;font-weight:400;font-style:normal;">Medium</div>
<div class="t" style="left:912.8px;top:503.70px;font-size:10.4px;line-height:10.4px;color:#3F3F3F;font-weight:400;font-style:normal;">60%</div>
</body></html>
